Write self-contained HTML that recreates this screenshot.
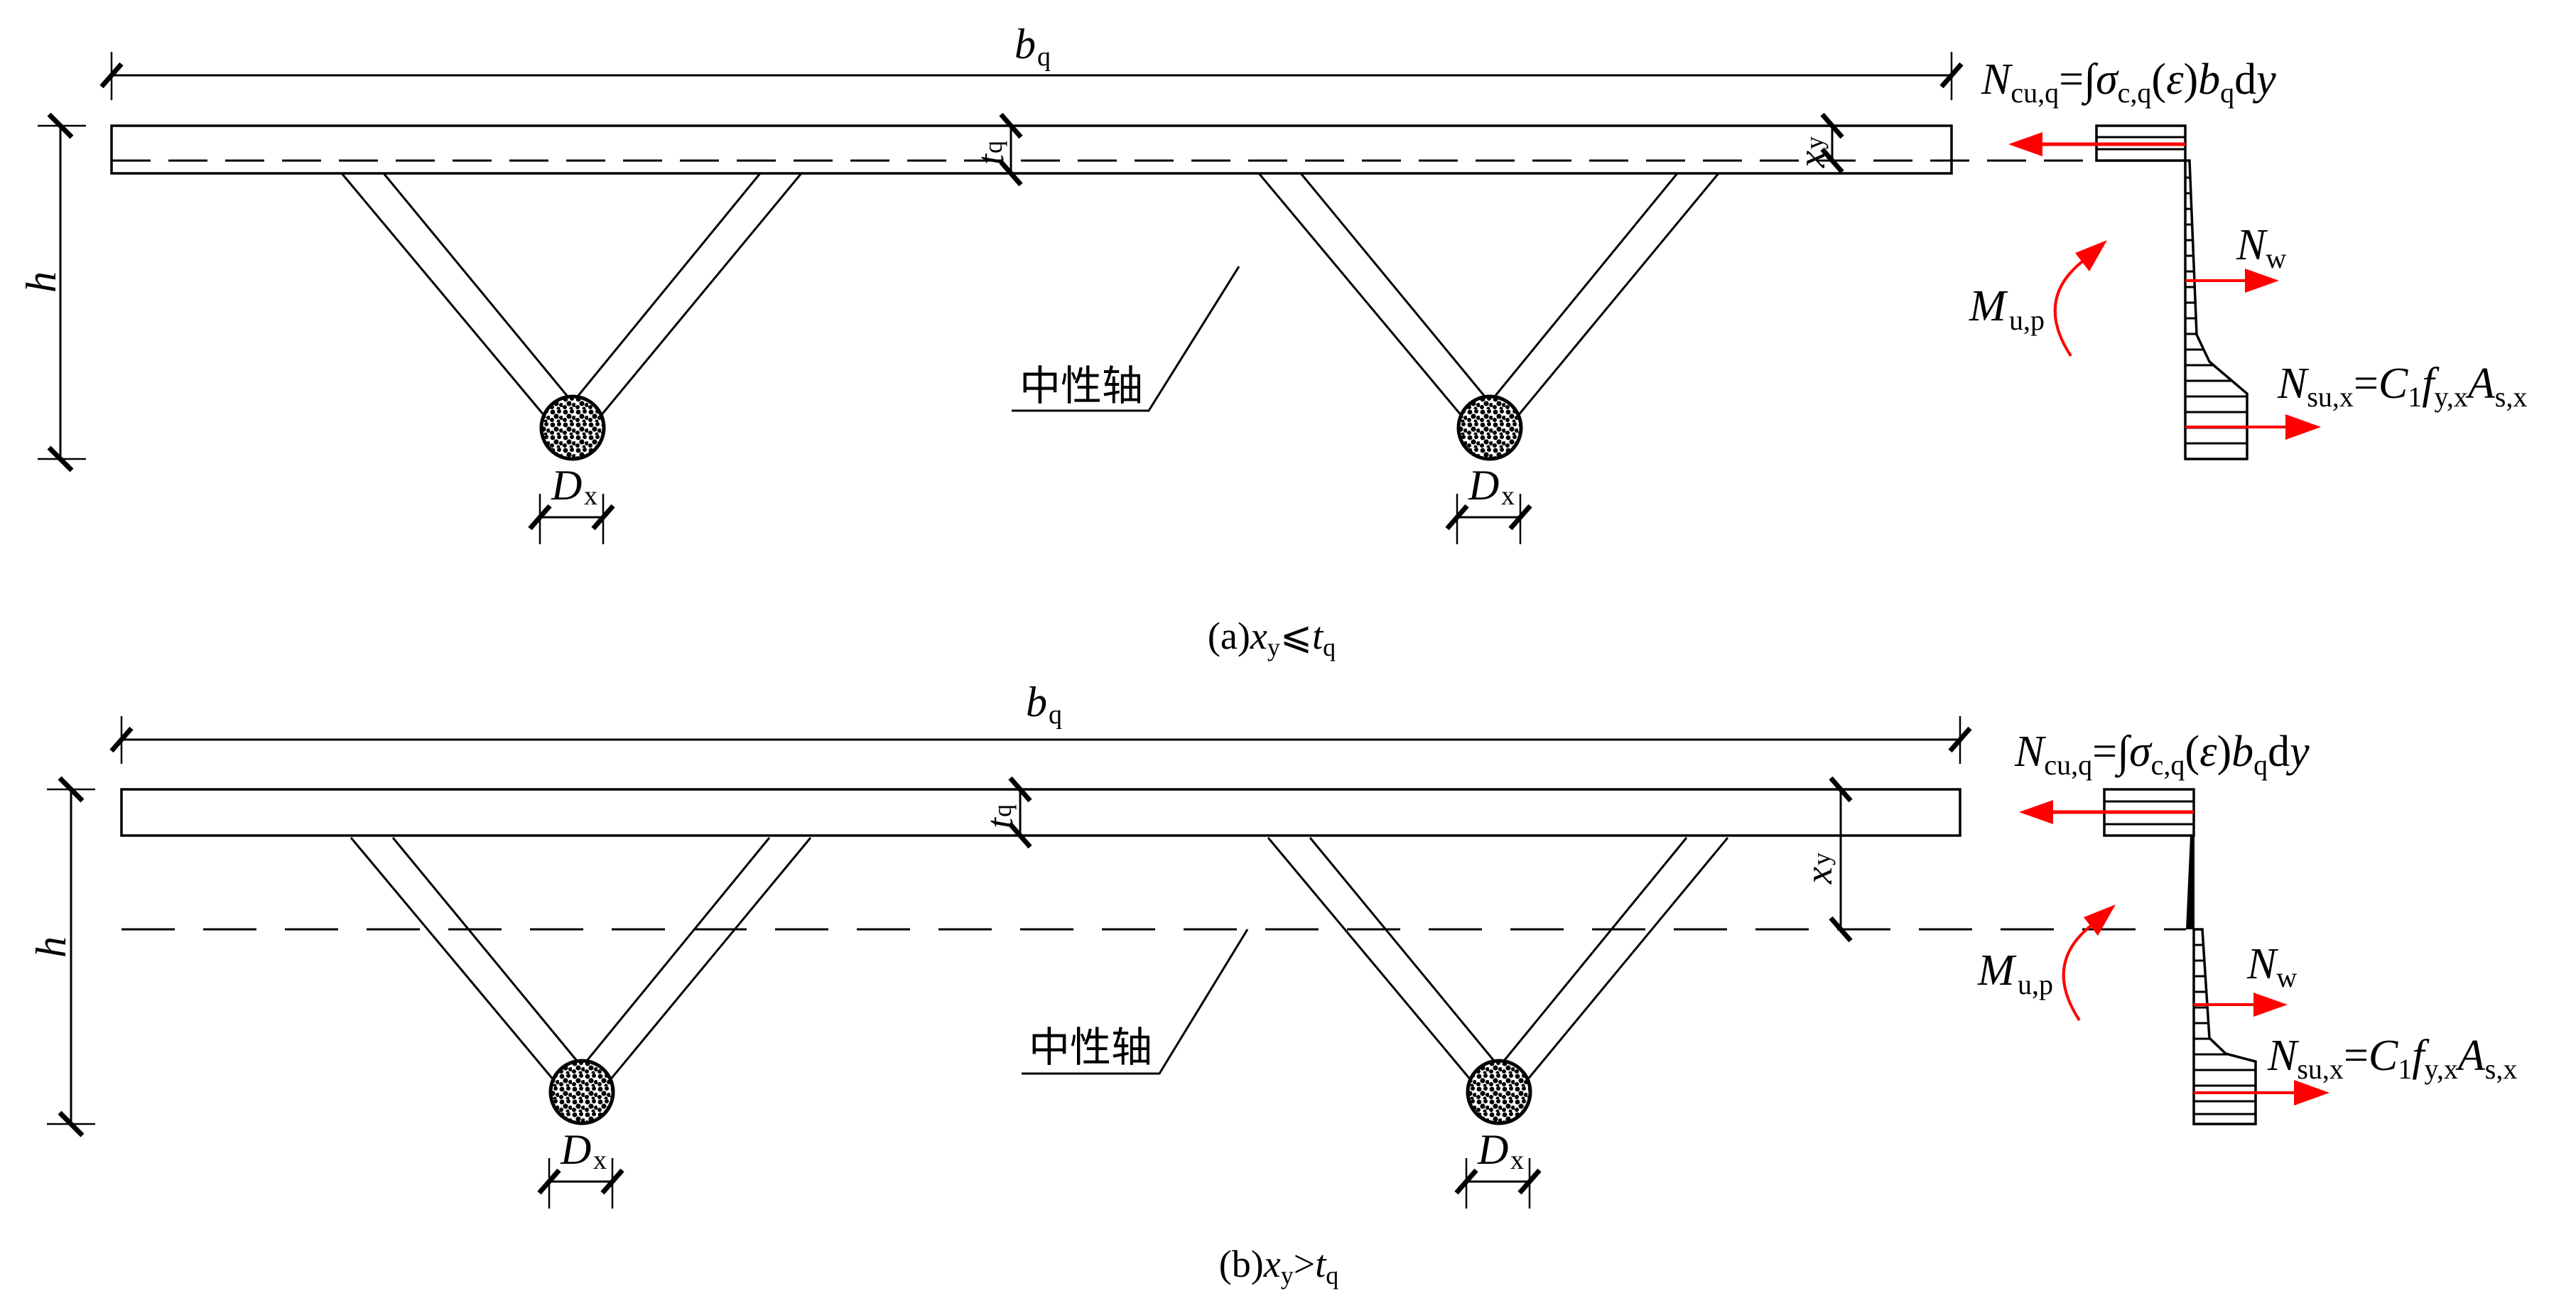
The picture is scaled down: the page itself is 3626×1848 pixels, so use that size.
<!DOCTYPE html>
<html><head><meta charset="utf-8"><style>
html,body{margin:0;padding:0;background:#fff;}
svg{display:block;}
text{font-family:"Liberation Serif","Times New Roman","Noto Serif CJK SC",serif;fill:#000;}
.cn{font-family:"Liberation Sans","Noto Sans CJK SC",sans-serif;}
</style></head><body>
<svg width="3626" height="1848" viewBox="0 0 3626 1848" xmlns="http://www.w3.org/2000/svg" font-family="Liberation Serif, Times New Roman, serif">
<defs>
<pattern id="sp" width="18" height="18" patternUnits="userSpaceOnUse">
<rect width="18" height="18" fill="#fff"/>
<circle cx="4" cy="4" r="3.4" fill="#000"/><circle cx="13" cy="3" r="3" fill="#000"/>
<circle cx="9" cy="10" r="3.6" fill="#000"/><circle cx="16" cy="12" r="3" fill="#000"/>
<circle cx="3" cy="15" r="3" fill="#000"/><circle cx="12" cy="17" r="2.5" fill="#000"/>
</pattern>
<clipPath id="cpa"><polygon points="3076,226 3082,226 3092,471 3110,509 3163,554 3163,646 3076,646"/></clipPath>
<clipPath id="cpb"><polygon points="3088,1308 3100,1308 3110,1461 3133,1483 3175,1494 3175,1582 3088,1582"/></clipPath>
<g id="V">
<line x1="481" y1="244" x2="772" y2="592" stroke="#000" stroke-width="3"/>
<line x1="540" y1="244" x2="799" y2="558" stroke="#000" stroke-width="3"/>
<line x1="1070" y1="244" x2="813" y2="558" stroke="#000" stroke-width="3"/>
<line x1="1128" y1="244" x2="840" y2="592" stroke="#000" stroke-width="3"/>
<circle cx="806" cy="602" r="44" fill="url(#sp)" stroke="#000" stroke-width="5"/>
<line x1="760" y1="695" x2="760" y2="766" stroke="#000" stroke-width="2.5"/>
<line x1="849" y1="695" x2="849" y2="766" stroke="#000" stroke-width="2.5"/>
<line x1="760" y1="728" x2="849" y2="728" stroke="#000" stroke-width="3"/>
<line x1="746" y1="744" x2="774" y2="712" stroke="#000" stroke-width="7"/>
<line x1="835" y1="744" x2="863" y2="712" stroke="#000" stroke-width="7"/>
<text x="776" y="703" font-size="60" font-style="italic">D</text>
<text x="822" y="710" font-size="38">x</text>
</g>
<g id="M">
<path d="M2915,501 Q2862,420 2935,365" fill="none" stroke="#f00" stroke-width="4"/>
<polygon points="2966,338 2921,356 2941,382" fill="#f00"/>
<text x="2772" y="451" font-size="62" font-style="italic">M</text>
<text x="2828" y="464" font-size="40">u,p</text>
</g>
</defs>

<!-- ===== Part (a) ===== -->
<line x1="157" y1="106" x2="2747" y2="106" stroke="#000" stroke-width="3"/>
<line x1="157" y1="73" x2="157" y2="141" stroke="#000" stroke-width="2.5"/>
<line x1="2747" y1="73" x2="2747" y2="141" stroke="#000" stroke-width="2.5"/>
<line x1="143" y1="122" x2="171" y2="90" stroke="#000" stroke-width="7"/>
<line x1="2733" y1="122" x2="2761" y2="90" stroke="#000" stroke-width="7"/>
<text x="1428" y="82" font-size="60" font-style="italic">b</text>
<text x="1460" y="92" font-size="38">q</text>

<rect x="157" y="177" width="2590" height="67" fill="none" stroke="#000" stroke-width="3.5"/>
<line x1="157" y1="226" x2="2951" y2="226" stroke="#000" stroke-width="3" stroke-dasharray="55,25"/>

<line x1="85" y1="177" x2="85" y2="646" stroke="#000" stroke-width="3"/>
<line x1="53" y1="177" x2="121" y2="177" stroke="#000" stroke-width="2.5"/>
<line x1="53" y1="646" x2="121" y2="646" stroke="#000" stroke-width="2.5"/>
<line x1="69" y1="161" x2="101" y2="193" stroke="#000" stroke-width="7"/>
<line x1="69" y1="630" x2="101" y2="662" stroke="#000" stroke-width="7"/>
<text x="0" y="0" font-size="60" font-style="italic" transform="translate(78,412) rotate(-90)">h</text>

<line x1="1423" y1="177" x2="1423" y2="244" stroke="#000" stroke-width="3"/>
<line x1="1409" y1="161" x2="1437" y2="193" stroke="#000" stroke-width="7"/>
<line x1="1409" y1="228" x2="1437" y2="260" stroke="#000" stroke-width="7"/>
<g transform="translate(1412,232) rotate(-90)"><text x="0" y="0" font-size="54" font-style="italic">t</text><text x="16" y="-2" font-size="36">q</text></g>

<line x1="2579" y1="177" x2="2579" y2="226" stroke="#000" stroke-width="3"/>
<line x1="2565" y1="161" x2="2593" y2="193" stroke="#000" stroke-width="7"/>
<line x1="2565" y1="210" x2="2593" y2="242" stroke="#000" stroke-width="7"/>
<g transform="translate(2568,236) rotate(-90)"><text x="0" y="0" font-size="54" font-style="italic">x</text><text x="26" y="-2" font-size="36">y</text></g>

<use href="#V"/>
<use href="#V" transform="translate(1291,0)"/>

<polyline points="1744,375 1617,578 1424,578" fill="none" stroke="#000" stroke-width="3"/>
<text x="1435" y="563" font-size="58" class="cn">中性轴</text>

<text x="1790" y="913" font-size="54" text-anchor="middle"><tspan>(a)</tspan><tspan font-style="italic">x</tspan><tspan font-size="36" dy="10">y</tspan><tspan dy="-10">⩽</tspan><tspan font-style="italic">t</tspan><tspan font-size="36" dy="10">q</tspan></text>

<!-- stress a -->
<rect x="2951" y="177" width="125" height="49" fill="none" stroke="#000" stroke-width="3.5"/>
<line x1="2951" y1="193" x2="3076" y2="193" stroke="#000" stroke-width="3"/>
<line x1="2951" y1="210" x2="3076" y2="210" stroke="#000" stroke-width="3"/>
<polygon points="3076,226 3082,226 3092,471 3110,509 3163,554 3163,646 3076,646" fill="none" stroke="#000" stroke-width="3.5"/>
<g clip-path="url(#cpa)" stroke="#000" stroke-width="3">
<line x1="3070" y1="250" x2="3170" y2="250"/><line x1="3070" y1="272" x2="3170" y2="272"/><line x1="3070" y1="294" x2="3170" y2="294"/><line x1="3070" y1="316" x2="3170" y2="316"/><line x1="3070" y1="338" x2="3170" y2="338"/><line x1="3070" y1="360" x2="3170" y2="360"/><line x1="3070" y1="382" x2="3170" y2="382"/><line x1="3070" y1="404" x2="3170" y2="404"/><line x1="3070" y1="426" x2="3170" y2="426"/><line x1="3070" y1="448" x2="3170" y2="448"/><line x1="3070" y1="470" x2="3170" y2="470"/><line x1="3070" y1="492" x2="3170" y2="492"/><line x1="3070" y1="514" x2="3170" y2="514"/><line x1="3070" y1="536" x2="3170" y2="536"/><line x1="3070" y1="558" x2="3170" y2="558"/><line x1="3070" y1="580" x2="3170" y2="580"/><line x1="3070" y1="602" x2="3170" y2="602"/><line x1="3070" y1="624" x2="3170" y2="624"/>
</g>
<line x1="3076" y1="203" x2="2870" y2="203" stroke="#f00" stroke-width="5"/>
<polygon points="2827,203 2875,186 2875,220" fill="#f00"/>
<line x1="3076" y1="395" x2="3165" y2="395" stroke="#f00" stroke-width="4"/>
<polygon points="3208,395 3160,378 3160,412" fill="#f00"/>
<line x1="3076" y1="601" x2="3220" y2="601" stroke="#f00" stroke-width="4"/>
<polygon points="3267,601 3217,583 3217,619" fill="#f00"/>
<use href="#M"/>
<text x="2789" y="132" font-size="62"><tspan font-style="italic">N</tspan><tspan font-size="40" dy="12">cu,q</tspan><tspan dy="-12">=∫</tspan><tspan font-style="italic">σ</tspan><tspan font-size="40" dy="12">c,q</tspan><tspan dy="-12">(</tspan><tspan font-style="italic">ε</tspan><tspan>)</tspan><tspan font-style="italic">b</tspan><tspan font-size="40" dy="12">q</tspan><tspan dy="-12">d</tspan><tspan font-style="italic">y</tspan></text>
<text x="3148" y="365" font-size="62"><tspan font-style="italic">N</tspan><tspan font-size="40" dy="12">w</tspan></text>
<text x="3206" y="560" font-size="62"><tspan font-style="italic">N</tspan><tspan font-size="40" dy="12">su,x</tspan><tspan dy="-12">=</tspan><tspan font-style="italic">C</tspan><tspan font-size="40" dy="12">1</tspan><tspan font-style="italic" dy="-12">f</tspan><tspan font-size="40" dy="12">y,x</tspan><tspan font-style="italic" dy="-12">A</tspan><tspan font-size="40" dy="12">s,x</tspan></text>

<!-- ===== Part (b) ===== -->
<line x1="171" y1="1041" x2="2759" y2="1041" stroke="#000" stroke-width="3"/>
<line x1="171" y1="1008" x2="171" y2="1075" stroke="#000" stroke-width="2.5"/>
<line x1="2759" y1="1008" x2="2759" y2="1075" stroke="#000" stroke-width="2.5"/>
<line x1="157" y1="1057" x2="185" y2="1025" stroke="#000" stroke-width="7"/>
<line x1="2745" y1="1057" x2="2773" y2="1025" stroke="#000" stroke-width="7"/>
<text x="1444" y="1008" font-size="60" font-style="italic">b</text>
<text x="1476" y="1018" font-size="38">q</text>

<rect x="171" y="1111" width="2588" height="65" fill="none" stroke="#000" stroke-width="3.5"/>
<line x1="171" y1="1308" x2="3077" y2="1308" stroke="#000" stroke-width="3" stroke-dasharray="75,40"/>

<line x1="100" y1="1111" x2="100" y2="1582" stroke="#000" stroke-width="3"/>
<line x1="66" y1="1111" x2="134" y2="1111" stroke="#000" stroke-width="2.5"/>
<line x1="66" y1="1582" x2="134" y2="1582" stroke="#000" stroke-width="2.5"/>
<line x1="84" y1="1095" x2="116" y2="1127" stroke="#000" stroke-width="7"/>
<line x1="84" y1="1566" x2="116" y2="1598" stroke="#000" stroke-width="7"/>
<text x="0" y="0" font-size="60" font-style="italic" transform="translate(92,1348) rotate(-90)">h</text>

<line x1="1436" y1="1111" x2="1436" y2="1176" stroke="#000" stroke-width="3"/>
<line x1="1422" y1="1095" x2="1450" y2="1127" stroke="#000" stroke-width="7"/>
<line x1="1422" y1="1160" x2="1450" y2="1192" stroke="#000" stroke-width="7"/>
<g transform="translate(1425,1166) rotate(-90)"><text x="0" y="0" font-size="54" font-style="italic">t</text><text x="16" y="-2" font-size="36">q</text></g>

<line x1="2591" y1="1111" x2="2591" y2="1308" stroke="#000" stroke-width="3"/>
<line x1="2577" y1="1095" x2="2605" y2="1127" stroke="#000" stroke-width="7"/>
<line x1="2577" y1="1292" x2="2605" y2="1324" stroke="#000" stroke-width="7"/>
<g transform="translate(2578,1244) rotate(-90)"><text x="0" y="0" font-size="54" font-style="italic">x</text><text x="26" y="-2" font-size="36">y</text></g>

<use href="#V" transform="translate(13,935)"/>
<use href="#V" transform="translate(1304,935)"/>

<polyline points="1756,1308 1632,1511 1438,1511" fill="none" stroke="#000" stroke-width="3"/>
<text x="1448" y="1494" font-size="58" class="cn">中性轴</text>

<text x="1800" y="1797" font-size="54" text-anchor="middle"><tspan>(b)</tspan><tspan font-style="italic">x</tspan><tspan font-size="36" dy="10">y</tspan><tspan dy="-10">&gt;</tspan><tspan font-style="italic">t</tspan><tspan font-size="36" dy="10">q</tspan></text>

<!-- stress b -->
<rect x="2962" y="1111" width="126" height="65" fill="none" stroke="#000" stroke-width="3.5"/>
<line x1="2962" y1="1128" x2="3088" y2="1128" stroke="#000" stroke-width="3"/>
<line x1="2962" y1="1160" x2="3088" y2="1160" stroke="#000" stroke-width="3"/>
<polygon points="3083,1176 3089,1176 3089,1308 3077,1308" fill="#000"/>
<polygon points="3088,1308 3100,1308 3110,1461 3133,1483 3175,1494 3175,1582 3088,1582" fill="none" stroke="#000" stroke-width="3.5"/>
<g clip-path="url(#cpb)" stroke="#000" stroke-width="3">
<line x1="3080" y1="1330" x2="3180" y2="1330"/><line x1="3080" y1="1352" x2="3180" y2="1352"/><line x1="3080" y1="1374" x2="3180" y2="1374"/><line x1="3080" y1="1396" x2="3180" y2="1396"/><line x1="3080" y1="1418" x2="3180" y2="1418"/><line x1="3080" y1="1440" x2="3180" y2="1440"/><line x1="3080" y1="1462" x2="3180" y2="1462"/><line x1="3080" y1="1484" x2="3180" y2="1484"/><line x1="3080" y1="1506" x2="3180" y2="1506"/><line x1="3080" y1="1528" x2="3180" y2="1528"/><line x1="3080" y1="1550" x2="3180" y2="1550"/><line x1="3080" y1="1568" x2="3180" y2="1568"/>
</g>
<line x1="3088" y1="1143" x2="2885" y2="1143" stroke="#f00" stroke-width="5"/>
<polygon points="2842,1143 2890,1126 2890,1160" fill="#f00"/>
<line x1="3088" y1="1414" x2="3175" y2="1414" stroke="#f00" stroke-width="4"/>
<polygon points="3220,1414 3172,1397 3172,1431" fill="#f00"/>
<line x1="3088" y1="1538" x2="3230" y2="1538" stroke="#f00" stroke-width="4"/>
<polygon points="3279,1538 3229,1520 3229,1556" fill="#f00"/>
<use href="#M" transform="translate(12,935)"/>
<text x="2836" y="1078" font-size="62"><tspan font-style="italic">N</tspan><tspan font-size="40" dy="12">cu,q</tspan><tspan dy="-12">=∫</tspan><tspan font-style="italic">σ</tspan><tspan font-size="40" dy="12">c,q</tspan><tspan dy="-12">(</tspan><tspan font-style="italic">ε</tspan><tspan>)</tspan><tspan font-style="italic">b</tspan><tspan font-size="40" dy="12">q</tspan><tspan dy="-12">d</tspan><tspan font-style="italic">y</tspan></text>
<text x="3163" y="1377" font-size="62"><tspan font-style="italic">N</tspan><tspan font-size="40" dy="12">w</tspan></text>
<text x="3192" y="1506" font-size="62"><tspan font-style="italic">N</tspan><tspan font-size="40" dy="12">su,x</tspan><tspan dy="-12">=</tspan><tspan font-style="italic">C</tspan><tspan font-size="40" dy="12">1</tspan><tspan font-style="italic" dy="-12">f</tspan><tspan font-size="40" dy="12">y,x</tspan><tspan font-style="italic" dy="-12">A</tspan><tspan font-size="40" dy="12">s,x</tspan></text>
</svg>
</body></html>
